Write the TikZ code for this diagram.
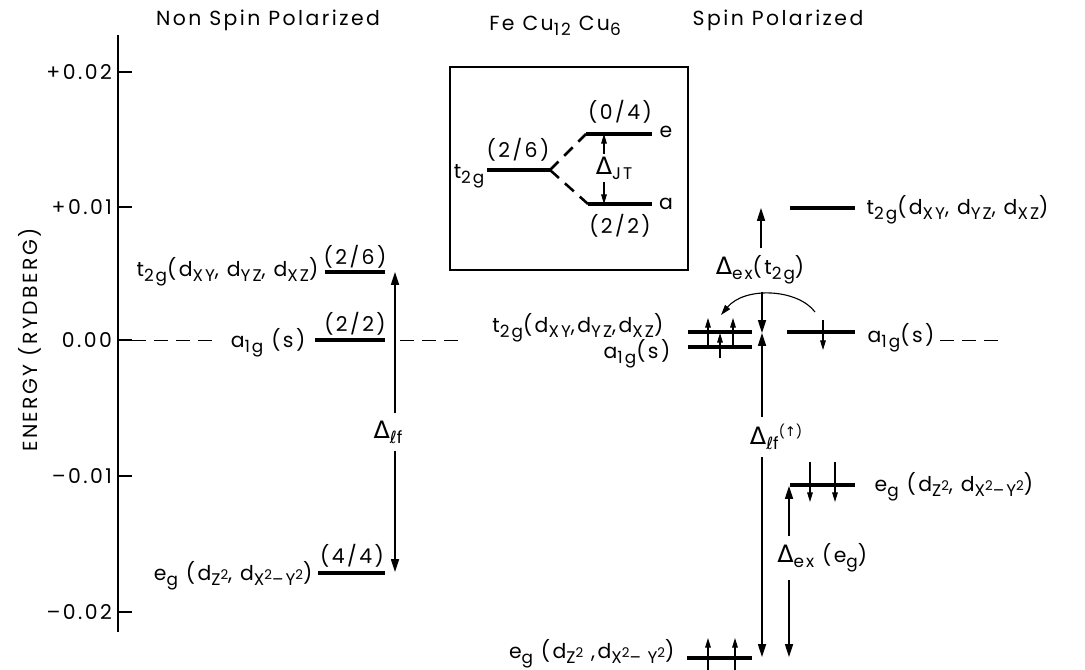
\documentclass[tikz,border=0pt]{standalone}
\usepackage{fontspec}
\setmainfont{Poppins}[LetterSpace=12]
\newfontfamily\symf{DejaVu Sans}
\usetikzlibrary{arrows.meta}
\newcommand{\lo}[1]{\raisebox{-0.45ex}{\fontsize{12}{13}\selectfont #1}}
\newcommand{\hi}[1]{\raisebox{0.7ex}{\fontsize{9.5}{10}\selectfont #1}}
\newcommand{\Dl}{{\fontsize{17}{18}\selectfont\symf Δ}}
\begin{document}
\begin{tikzpicture}[x=0.025cm,y=-0.025cm,
  every node/.style={font=\fontsize{14.5}{16}\selectfont,inner sep=1pt},
  dlab/.style={inner sep=5pt},
  lev/.style={line width=2.3pt},
  arr/.style={line width=0.9pt,-{Triangle[length=3.2mm,width=2mm]}},
  spin/.style={line width=0.8pt,-{Triangle[length=2.4mm,width=1.4mm]}},
  fermi/.style={line width=0.6pt,dash pattern=on 0.35cm off 0.2cm},
  split/.style={line width=1.8pt,dash pattern=on 0.3cm off 0.2cm}]
\useasboundingbox (0,0) rectangle (1085,670);
% headings
\node (np) at (268,20) {Non Spin Polarized};
\node (fecu) at (555,26) {Fe Cu\lo{12} Cu\lo{6}};
\node (sp) at (778,20) {Spin Polarized};
% energy axis
\coordinate (atop) at (118,35);
\coordinate (abot) at (118,632);
\draw[line width=0.8pt] (atop) -- (abot);
\node[rotate=90] (ylab) at (30,340) {ENERGY (RYDBERG)};
\draw[line width=0.8pt] (118,72) -- (132,72) node[pos=0,left=3pt] (tk1) {+0.02};
\draw[line width=0.8pt] (118,207) -- (132,207) node[pos=0,left=3pt] (tk2) {+0.01};
\draw[line width=0.8pt] (118,340) -- (132,340) node[pos=0,left=3pt] (tk3) {0.00};
\draw[line width=0.8pt] (118,476) -- (132,476) node[pos=0,left=3pt] (tk4) {–0.01};
\draw[line width=0.8pt] (118,612) -- (132,612) node[pos=0,left=3pt] (tk5) {–0.02};
% non spin polarized levels
\coordinate (lt1) at (325,272); \coordinate (lt2) at (385,272);
\coordinate (la1) at (315,340); \coordinate (la2) at (385,340);
\coordinate (le1) at (318,573); \coordinate (le2) at (385,573);
\draw[lev] (lt1) -- (lt2);
\draw[lev] (la1) -- (la2);
\draw[lev] (le1) -- (le2);
\node[anchor=east] (lt2g) at (320,272) {t\lo{2g}(d\lo{XY}, d\lo{YZ}, d\lo{XZ})};
\node (l26) at (355,257) {(2/6)};
\node[anchor=east] (la1g) at (307,343) {a\lo{1g} (s)};
\node (l22) at (355,324) {(2/2)};
\node[anchor=east] (leg) at (314,576) {e\lo{g} (d\lo{Z\hi{2}}, d\lo{X\hi{2}–Y\hi{2}})};
\node (l44) at (352,556) {(4/4)};
\coordinate (lfT) at (395,272); \coordinate (lfB) at (395,572);
\node[dlab] (dlf) at (388,432) {\Dl\lo{{\symf ℓ}f}};
\draw[arr] (dlf.north -| lfT) -- (lfT);
\draw[arr] (dlf.south -| lfB) -- (lfB);
\draw[fermi] (132,340) -- (216,340);
\draw[fermi] (400,340) -- (466,340);
% inset: Jahn-Teller splitting
\draw[line width=0.8pt] (450,67) rectangle (688,270);
\coordinate (it1) at (487,170); \coordinate (it2) at (550,170);
\coordinate (ie1) at (586,134); \coordinate (ie2) at (652,134);
\coordinate (ia1) at (588,204); \coordinate (ia2) at (652,204);
\draw[lev] (it1) -- (it2);
\draw[lev] (ie1) -- (ie2);
\draw[lev] (ia1) -- (ia2);
\draw[split] (it2) -- (ie1);
\draw[split] (it2) -- (ia1);
\node[anchor=east] (it2g) at (486,176) {t\lo{2g}};
\node (i26) at (518,150) {(2/6)};
\node (i04) at (620,112) {(0/4)};
\node (i22) at (620,226) {(2/2)};
\node (ie) at (666,132) {e};
\node (ia) at (666,204) {a};
\node[inner sep=2pt] (djt) at (604,168) {\Dl\rlap{\lo{JT}}};
\draw[spin] (djt.north) -- (djt.north |- ie1);
\draw[spin] (djt.south) -- (djt.south |- ia1);
% spin polarized levels
\coordinate (rt1) at (790,208); \coordinate (rt2) at (855,208);
\coordinate (mu1) at (688,332); \coordinate (mu2) at (752,332);
\coordinate (md1) at (688,347); \coordinate (md2) at (752,347);
\coordinate (ra1) at (787,332); \coordinate (ra2) at (855,332);
\coordinate (re1) at (790,485); \coordinate (re2) at (855,485);
\coordinate (be1) at (687,658); \coordinate (be2) at (752,658);
\draw[lev] (rt1) -- (rt2);
\draw[lev] (mu1) -- (mu2);
\draw[lev] (md1) -- (md2);
\draw[lev] (ra1) -- (ra2);
\draw[lev] (re1) -- (re2);
\draw[lev] (be1) -- (be2);
\node[anchor=west] (rt2g) at (865,210) {t\lo{2g}(d\lo{XY}, d\lo{YZ}, d\lo{XZ})};
\node[anchor=east] (mt2g) at (665,328) {t\lo{2g}(d\lo{XY},d\lo{YZ},d\lo{XZ})};
\node[anchor=east] (ma1g) at (672,354) {a\lo{1g}(s)};
\node[anchor=west] (ra1g) at (866,338) {a\lo{1g}(s)};
\node[anchor=west] (reg) at (873,487) {e\lo{g} (d\lo{Z\hi{2}}, d\lo{X\hi{2}–Y\hi{2}})};
\node[anchor=east] (beg) at (676,654) {e\lo{g} (d\lo{Z\hi{2}} ,d\lo{X\hi{2}– Y\hi{2}})};
\draw[fermi] (ra1g.east |- ra2) ++(4,8) -- (1005,340);
% splittings
\coordinate (xt) at (761,208);
\coordinate (bow) at (762,333);
\coordinate (bot) at (762,657);
\coordinate (egT) at (789,486); \coordinate (egB) at (789,657);
\node[dlab] (dext) at (760,270) {\Dl\lo{ex}(t\lo{2g})};
\node[dlab] (dlfu) at (776,437) {\Dl\lo{{\symf ℓ}f}\hi{({\symf ↑})}};
\node[dlab,anchor=west] (dexg) at (770,558) {\Dl\lo{ex} (e\lo{g})};
\draw[arr] (dext.north -| xt) -- (xt);
\draw[arr] (dext.south -| bow) -- (bow);
\draw[arr] (dlfu.north -| bow) -- (bow);
\draw[arr] (dlfu.south -| bot) -- (bot);
\draw[arr] (dexg.north -| egT) -- (egT);
\draw[arr] (dexg.south -| egB) -- (egB);
% electrons
\draw[spin] (708,345) -- (708,318);
\draw[spin] (733,345) -- (733,318);
\draw[spin] (720,358) -- (720,333);
\draw[spin] (823,320) -- (823,350);
\draw[spin] (810,462) -- (810,502);
\draw[spin] (835,462) -- (835,502);
\draw[spin] (708,670) -- (708,638);
\draw[spin] (735,670) -- (735,638);
\draw[line width=0.8pt,-{Triangle[length=2.6mm,width=1.6mm]}] (815,312) .. controls (798,289) and (745,286) .. (721,315);
\end{tikzpicture}
\end{document}
